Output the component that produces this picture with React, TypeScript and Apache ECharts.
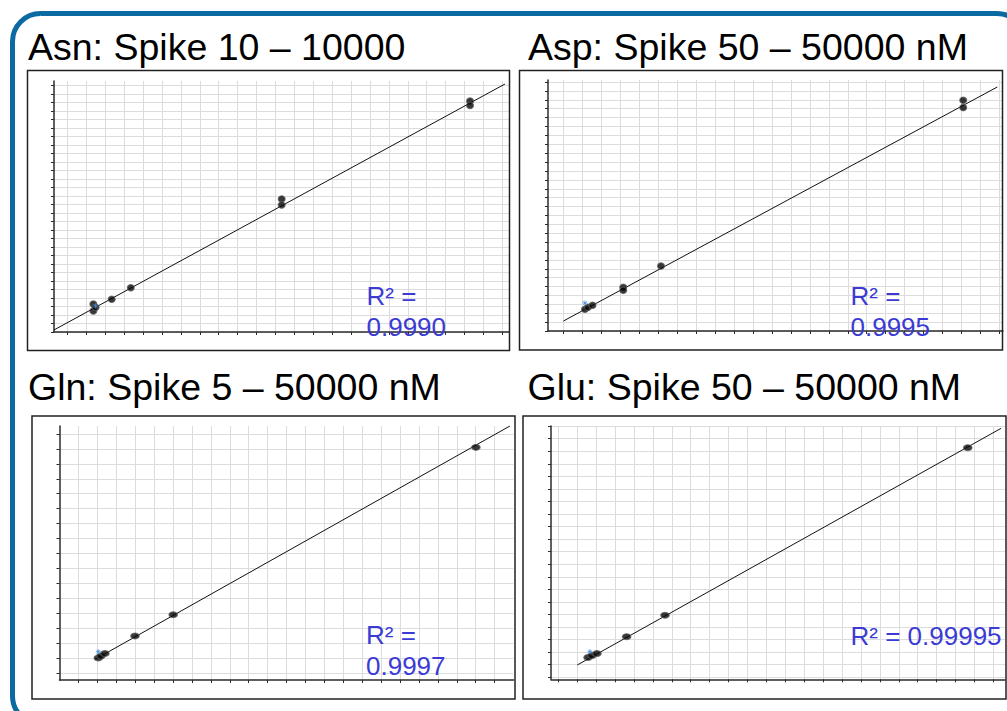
import React, { useEffect, useRef } from "react";
import * as echarts from "echarts";

// Calibration data for four amino acids. Coordinates are in grid-cell units
// measured from each plot's origin (x: vertical grid spacing, y: horizontal grid spacing).

// Asn
const asnX = [2.08, 2.08, 2.2, 3.05, 4.06, 12.04, 12.04, 22.0, 22.0];
const asnY = [3.29, 2.47, 2.9, 3.85, 5.21, 15.65, 14.94, 27.18, 26.65];
const asnFitX = [0, 23.85];
const asnFitY = [0.24, 29.18];
const asnFlagX = [2.2];
const asnFlagY = [3.06];
const asnR2 = "0.9990";

// Asp
const aspX = [1.95, 2.11, 2.35, 3.97, 3.97, 5.96, 21.9, 21.9];
const aspY = [2.44, 2.66, 2.89, 4.92, 4.58, 7.31, 25.95, 25.13];
const aspFitX = [0.81, 23.7];
const aspFitY = [1.12, 27.45];
const aspFlagX = [1.95];
const aspFlagY = [3.15];
const aspR2 = "0.9995";

// Gln
const glnX = [2.05, 2.19, 2.4, 3.99, 6.01, 22.01];
const glnY = [1.47, 1.6, 1.77, 2.94, 4.36, 15.55];
const glnFitX = [1.88, 23.81];
const glnFitY = [1.38, 16.98];
const glnFlagX = [2.05];
const glnFlagY = [1.89];
const glnR2 = "0.9997";

// Glu
const gluX = [1.96, 2.17, 2.43, 4.0, 6.03, 22.04];
const gluY = [1.74, 1.89, 2.05, 3.39, 5.1, 18.44];
const gluFitX = [1.39, 23.8];
const gluFitY = [1.14, 19.98];
const gluFlagX = [2.06];
const gluFlagY = [2.2];
const gluR2 = "0.99995";

const TITLES = [
  "Asn: Spike 10 – 10000",
  "Asp: Spike 50 – 50000 nM",
  "Gln: Spike 5 – 50000 nM",
  "Glu: Spike 50 – 50000 nM",
];

const FONT = '"Liberation Sans", Arial, Helvetica, sans-serif';
const TITLE_SIZE = 37.5;
const R2_SIZE = 26;
const R2_GAP = 31.5;
const CENTRAL = 0.3465; // central baseline offset above the alphabetic baseline (em)

type Layout = {
  left: number;
  top: number;
  width: number;
  height: number;
  cellW: number;
  cellH: number;
  xOff: number;
  yOff: number;
  nx: number;
  ny: number;
  frame: [number, number, number, number];
  titleAt: [number, number];
  r2At: [number, number];
  dot: [number, number];
};

const LAYOUTS: Layout[] = [
  { left: 54, top: 81, width: 455, height: 251, cellW: 18.91, cellH: 8.5, xOff: 0.71, yOff: 0, nx: 24, ny: 30,
    frame: [27.5, 70.5, 482, 280], titleAt: [28, 59.5], r2At: [366.5, 305], dot: [7, 6.5] },
  { left: 548, top: 80, width: 455, height: 251, cellW: 18.96, cellH: 8.89, xOff: 0.81, yOff: 0, nx: 24, ny: 29,
    frame: [519.5, 70.5, 483, 279.5], titleAt: [528, 59.5], r2At: [850.5, 305], dot: [7, 6.5] },
  { left: 59.5, top: 426, width: 454, height: 254, cellW: 18.92, cellH: 14.96, xOff: 1, yOff: 0.45, nx: 24, ny: 17,
    frame: [32, 416, 483, 283], titleAt: [28, 400], r2At: [366, 644], dot: [8.5, 6] },
  { left: 551, top: 426, width: 454, height: 253.3, cellW: 18.91, cellH: 12.56, xOff: 0.39, yOff: 0.16, nx: 24, ny: 21,
    frame: [523, 416, 483, 283], titleAt: [527.5, 400], r2At: [850.5, 645], dot: [8.5, 6] },
];

const PANELS = [
  { xs: asnX, ys: asnY, fitX: asnFitX, fitY: asnFitY, flagX: asnFlagX, flagY: asnFlagY, r2: ["R² =", asnR2] },
  { xs: aspX, ys: aspY, fitX: aspFitX, fitY: aspFitY, flagX: aspFlagX, flagY: aspFlagY, r2: ["R² =", aspR2] },
  { xs: glnX, ys: glnY, fitX: glnFitX, fitY: glnFitY, flagX: glnFlagX, flagY: glnFlagY, r2: ["R² =", glnR2] },
  { xs: gluX, ys: gluY, fitX: gluFitX, fitY: gluFitY, flagX: gluFlagX, flagY: gluFlagY, r2: ["R² = " + gluR2] },
];

const zip = (a: number[], b: number[]) => a.map((v, i) => [v, b[i]]);

const ASTERISK = "path://M5,0L5,10M0,5L10,5M1.5,1.5L8.5,8.5M8.5,1.5L1.5,8.5";

function buildOption() {
  const grid: any[] = [];
  const xAxis: any[] = [];
  const yAxis: any[] = [];
  const series: any[] = [];
  const graphic: any[] = [];

  // outer rounded frame
  graphic.push({
    type: "rect",
    shape: { x: 12.5, y: 13.5, width: 1012.5, height: 710.5, r: 28 },
    style: { fill: "none", stroke: "#0b6aa2", lineWidth: 5 },
    z: 1,
  });

  PANELS.forEach((p, i) => {
    const L = LAYOUTS[i];
    const xMax = L.width / L.cellW;
    const yMax = L.height / L.cellH;
    const xTicks = Array.from({ length: L.nx }, (_, k) => +(L.xOff + k).toFixed(3));
    const yTicks = Array.from({ length: L.ny }, (_, k) => +(L.yOff + k).toFixed(3));

    grid.push({ left: L.left, top: L.top, width: L.width, height: L.height, containLabel: false });

    const axisCommon = {
      type: "value",
      gridIndex: i,
      min: 0,
      axisLine: { show: true, onZero: false, lineStyle: { color: "#2b2b2b", width: 1.5 } },
      axisLabel: { show: false },
      splitLine: { show: true, lineStyle: { color: "#dcdcdc", width: 1 } },
    };
    xAxis.push({
      ...axisCommon,
      max: xMax,
      axisTick: { show: true, customValues: xTicks, length: 3, lineStyle: { color: "#2b2b2b", width: 1 } },
    });
    yAxis.push({
      ...axisCommon,
      max: yMax,
      axisTick: { show: true, customValues: yTicks, length: 3, lineStyle: { color: "#2b2b2b", width: 1 } },
    });

    series.push({
      type: "line",
      xAxisIndex: i,
      yAxisIndex: i,
      data: zip(p.fitX, p.fitY),
      symbol: "none",
      silent: true,
      lineStyle: { color: "#111", width: 1 },
      z: 3,
    });
    series.push({
      type: "scatter",
      xAxisIndex: i,
      yAxisIndex: i,
      data: zip(p.xs, p.ys),
      symbol: "circle",
      symbolSize: L.dot,
      itemStyle: { color: "#050505", borderColor: "#5a5a5a", borderWidth: 1 },
      z: 4,
    });
    series.push({
      type: "scatter",
      xAxisIndex: i,
      yAxisIndex: i,
      data: zip(p.flagX, p.flagY),
      symbol: ASTERISK,
      symbolSize: 5,
      itemStyle: { color: "rgba(0,0,0,0)", borderColor: "#4a90dc", borderWidth: 1 },
      z: 5,
    });

    // panel frame
    graphic.push({
      type: "rect",
      shape: { x: L.frame[0], y: L.frame[1], width: L.frame[2], height: L.frame[3] },
      style: { fill: "none", stroke: "#222", lineWidth: 1.5 },
      z: 20,
    });

    // title
    graphic.push({
      type: "text",
      x: L.titleAt[0],
      y: L.titleAt[1] - CENTRAL * TITLE_SIZE,
      style: {
        text: TITLES[i],
        font: `${TITLE_SIZE}px ${FONT}`,
        fill: "#000",
        textAlign: "left",
        textVerticalAlign: "middle",
      },
      z: 20,
    });

    // coefficient of determination
    p.r2.forEach((line, j) => {
      graphic.push({
        type: "text",
        x: L.r2At[0],
        y: L.r2At[1] + j * R2_GAP - CENTRAL * R2_SIZE,
        style: {
          text: line,
          font: `${R2_SIZE}px ${FONT}`,
          fill: "#3b3bd4",
          textAlign: "left",
          textVerticalAlign: "middle",
        },
        z: 30,
      });
    });
  });

  return {
    animation: false,
    backgroundColor: "#fff",
    grid,
    xAxis,
    yAxis,
    series,
    graphic,
  };
}

export default function App() {
  const ref = useRef<HTMLDivElement>(null);

  useEffect(() => {
    if (!ref.current) return;
    const chart = echarts.init(ref.current, undefined, { renderer: "svg" });
    chart.setOption(buildOption() as any);
    return () => chart.dispose();
  }, []);

  return (
    <div
      ref={ref}
      style={{ position: "fixed", left: 0, top: 0, width: 1007, height: 711, background: "#fff" }}
    />
  );
}
